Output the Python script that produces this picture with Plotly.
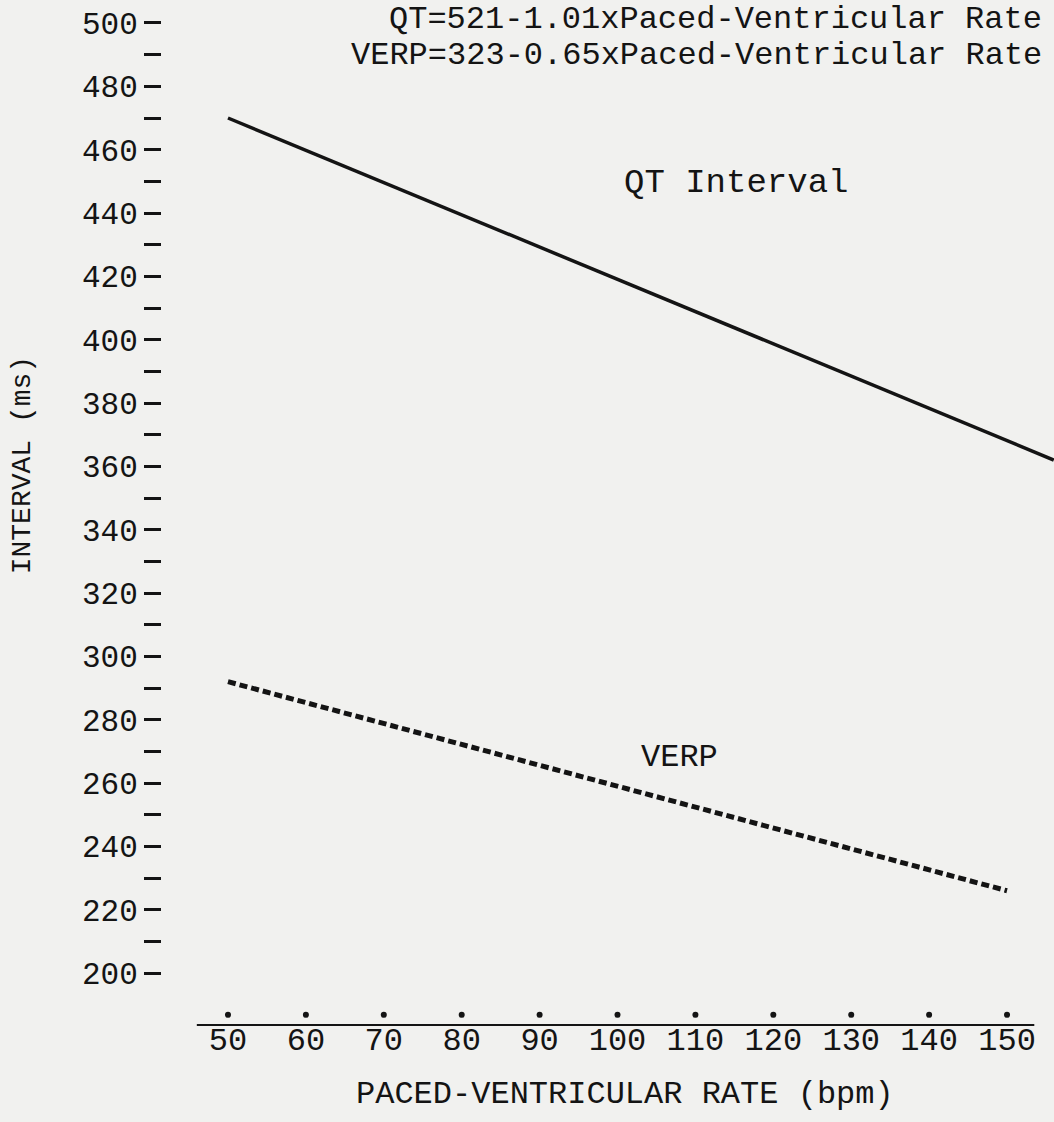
import plotly.graph_objects as go

# ---- data ----
rate_qt = [50, 156]
qt_ms = [470, 362]
rate_verp = [50, 150]
verp_ms = [292, 226]

x_ticks = [50, 60, 70, 80, 90, 100, 110, 120, 130, 140, 150]
y_major = [200, 220, 240, 260, 280, 300, 320, 340, 360, 380, 400, 420, 440, 460, 480, 500]
y_minor = [210, 230, 250, 270, 290, 310, 330, 350, 370, 390, 410, 430, 450, 470, 490]
y_tick_text = [f"{v}" for v in y_major]

eq_lines = ["QT=521-1.01xPaced-Ventricular Rate",
            "VERP=323-0.65xPaced-Ventricular Rate"]
x_title = "PACED-VENTRICULAR RATE (bpm)"
y_title = "INTERVAL (ms)"

FONT = "Liberation Mono, Courier New, monospace"
INK = "#141414"
BG = "#f1f1ef"

dot_y = 186.8          # row of tick dots just above the baseline
axis_x_extent = [46, 153.5]

fig = go.Figure()

fig.add_trace(go.Scatter(x=rate_qt, y=qt_ms, mode="lines",
                         line=dict(color=INK, width=3.5), showlegend=False, hoverinfo="skip"))
fig.add_trace(go.Scatter(x=rate_verp, y=verp_ms, mode="lines",
                         line=dict(color=INK, width=5, dash="8px,4px"), showlegend=False, hoverinfo="skip"))
fig.add_trace(go.Scatter(x=x_ticks, y=[dot_y] * len(x_ticks), mode="markers",
                         marker=dict(color=INK, size=6), showlegend=False, hoverinfo="skip"))

fig.add_shape(type="line", xref="x", yref="paper", x0=axis_x_extent[0], x1=axis_x_extent[1],
              y0=0, y1=0, line=dict(color=INK, width=2))

fig.update_layout(
    width=1054, height=1122,
    margin=dict(l=162, r=0, t=0, b=97),
    paper_bgcolor=BG, plot_bgcolor=BG,
    font=dict(family=FONT, size=32, color=INK),
    xaxis=dict(range=[41.53, 156.03], showgrid=False, zeroline=False, showline=False,
               tickmode="array", tickvals=x_ticks, ticks="", ticklabelstandoff=-8,
               tickfont=dict(family=FONT, size=32, color=INK)),
    yaxis=dict(range=[183.6, 507.26], showgrid=False, zeroline=False, showline=False,
               tickmode="array", tickvals=y_major, ticktext=y_tick_text,
               ticks="outside", ticklen=17, tickwidth=3, tickcolor=INK,
               tickfont=dict(family=FONT, size=31, color=INK),
               minor=dict(tickmode="array", tickvals=y_minor, ticks="outside",
                          ticklen=17, tickwidth=3, tickcolor=INK, showgrid=False)),
)

ann = [
    dict(text=eq_lines[0], x=0.989, y=0.9805),
    dict(text=eq_lines[1], x=0.989, y=0.9455),
]
for a in ann:
    fig.add_annotation(text=a["text"], xref="paper", yref="paper", x=a["x"], y=a["y"],
                       xanchor="right", yanchor="middle", showarrow=False,
                       font=dict(family=FONT, size=32, color=INK))

fig.add_annotation(text="QT Interval", xref="x", yref="y", x=115.2, y=449.5,
                   showarrow=False, font=dict(family=FONT, size=34, color=INK))
fig.add_annotation(text="VERP", xref="x", yref="y", x=108, y=268.2,
                   showarrow=False, font=dict(family=FONT, size=32, color=INK))

fig.add_annotation(text=x_title, xref="paper", yref="paper", x=0.519, y=-0.068,
                   xanchor="center", yanchor="middle", showarrow=False,
                   font=dict(family=FONT, size=32, color=INK))
fig.add_annotation(text=y_title, xref="paper", yref="paper", x=-0.157, y=0.546,
                   xanchor="center", yanchor="middle", textangle=-90, showarrow=False,
                   font=dict(family=FONT, size=28, color=INK))

fig.write_html("out.html")
